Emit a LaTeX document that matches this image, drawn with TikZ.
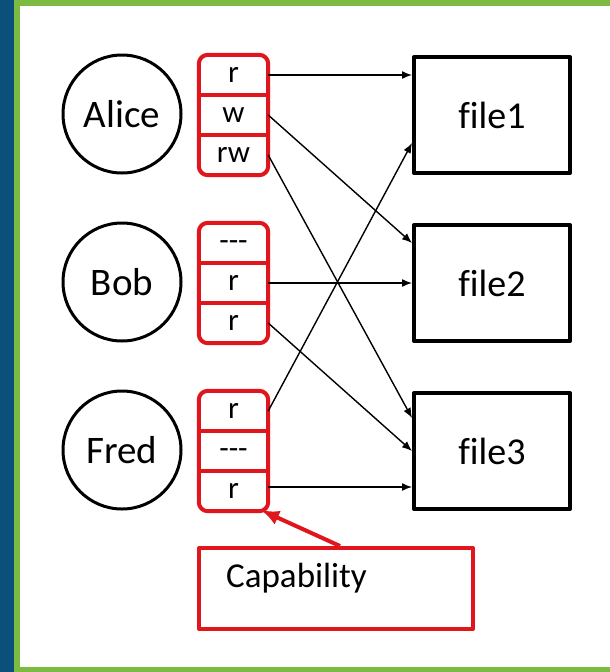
\documentclass[tikz,border=0pt]{standalone}
\usepackage{fontspec}
\setmainfont{Carlito}[Ligatures={NoCommon}]
\usetikzlibrary{arrows.meta,fit}
\definecolor{capred}{RGB}{225,22,28}
\definecolor{sideblue}{RGB}{10,80,122}
\definecolor{rimgreen}{RGB}{124,186,66}
\begin{document}
\begin{tikzpicture}[x=1pt,y=-1pt,line join=round,>={Latex[length=10pt,width=8pt]},
		user/.style={circle,draw,line width=3pt,minimum size=118pt,inner sep=0pt,font=\fontsize{39}{41}\selectfont},
		perm/.style={minimum width=69pt,minimum height=40pt,inner sep=0pt,text height=18pt,text depth=3pt,font=\fontsize{31}{33}\selectfont},
		capbox/.style={draw=capred,line width=4pt,rounded corners=9pt,inner sep=0pt},
		file/.style={draw,line width=4pt,minimum width=156pt,minimum height=116pt,inner sep=0pt,font=\fontsize{38}{40}\selectfont},
		capnote/.style={draw=capred,line width=4pt,minimum width=274pt,minimum height=81pt,inner sep=0pt}]
	\useasboundingbox (0,0) rectangle (610,672);
	\fill[sideblue] (0,0) rectangle (14,672);
	\fill[rimgreen] (14,0) rectangle (610,672);
	\fill[white] (20,6) rectangle (610,667);
	% subjects
	\node[user] (alice) at (122,114) {Alice};
	\node[user] (bob) at (122,282) {Bob};
	\node[user] (fred) at (122,450) {Fred};
	% capability lists
	\node[perm] (al1) at (233.5,75) {r};
	\node[perm] (al2) at (233.5,115) {w};
	\node[perm] (al3) at (233.5,155) {rw};
	\node[perm] (bo1) at (233.5,243) {{-}{-}{-}};
	\node[perm] (bo2) at (233.5,283) {r};
	\node[perm] (bo3) at (233.5,323) {r};
	\node[perm] (fr1) at (233.5,411) {r};
	\node[perm] (fr2) at (233.5,451) {{-}{-}{-}};
	\node[perm] (fr3) at (233.5,491) {r};
	\node[capbox,fit=(al1)(al3)] (alcap) {};
	\node[capbox,fit=(bo1)(bo3)] (bocap) {};
	\node[capbox,fit=(fr1)(fr3)] (frcap) {};
	\draw[capred,line width=4pt]
	(al1.south west) -- (al1.south east) (al2.south west) -- (al2.south east)
	(bo1.south west) -- (bo1.south east) (bo2.south west) -- (bo2.south east)
	(fr1.south west) -- (fr1.south east) (fr2.south west) -- (fr2.south east)
	;
	% objects
	\node[file] (f1) at (492,115) {file1};
	\node[file] (f2) at (492,283) {file2};
	\node[file] (f3) at (492,451) {file3};
	\draw[->,line width=1.4pt] (al1.east) -- (al1.east -| f1.west);
	\draw[->,line width=1.4pt] (al2.east) -- ([yshift=40pt]f2.west);
	\draw[->,line width=1.4pt] (al3.east) -- ([yshift=33pt]f3.west);
	\draw[->,line width=1.4pt] (bo2.east) -- (bo2.east -| f2.west);
	\draw[->,line width=1.4pt] (bo3.east) -- (f3.west);
	\draw[->,line width=1.4pt] (fr1.east) -- ([yshift=-28pt]f1.west);
	\draw[->,line width=1.4pt] ([yshift=4pt]fr3.east) -- ([yshift=4pt]fr3.east -| f3.west);
	% note
	\node[capnote,label={[anchor=west,xshift=29pt,yshift=10pt,inner sep=0pt,font=\fontsize{35}{37}\selectfont]west:Capability}] (cap) at (336,588.5) {};
	\draw[capred,line width=4pt,-{Latex[length=18pt,width=15pt]}] ([xshift=4pt]cap.north) -- ([xshift=-9pt,yshift=3pt]frcap.south east);
\end{tikzpicture}
\end{document}
